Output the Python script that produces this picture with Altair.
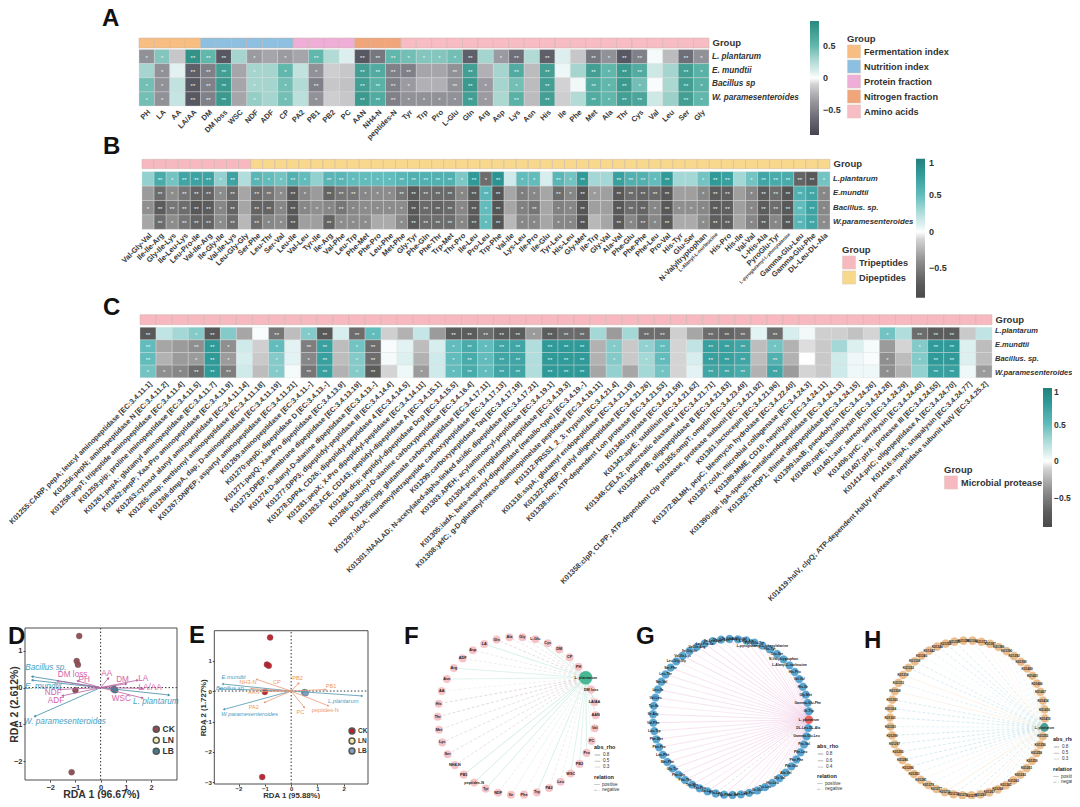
import math
import numpy as np
import pandas as pd
import altair as alt

W, H = 1064, 791
FONT = "Liberation Sans"
px = lambda v: v - 8

# ---------- Panel A ----------
A_cols = ["PH","LA","AA","LA/AA","DM","DM loss","WSC","NDF","ADF","CP","PA2","PB1","PB2","PC","AAN","NH4-N","peptides-N",
          "Tyr","Trp","Pro","L-Glu","Gln","Arg","Asp","Lys","Asn","His","Ile","Phe","Met","Ala","Thr","Cys","Val","Leu","Ser","Gly"]
A_group_names = ["Fermentation index","Nutrition index","Protein fraction","Nitrogen fraction","Amino acids"]
A_group_sizes = [4,6,4,3,20]
A_group_colors = ["#f8bd80","#8dbfe0","#eeaed8","#f0a57a","#f8bcc4"]
A_rows = {
 "L. plantarum": "-.4* .4* -.15 .8** .5** -.75** .3 -.35* -.3 -.35* -.3 .5** .25 .1 -.75** -.55** .5** .45* .4* .4* .45* -.7** .3 -.35* -.6** .25 -.7** .1 -.15 -.55** -.4* -.75** -.5** .03 -.2 -.6** -.4*",
 "E. mundtii": ".3 -.4* .08 -.7** -.5** .7** -.3 .3* .3 .5* .2 -.4* -.12 -.15 .7** .6** -.5** -.5** -.3 -.3 -.4** .7** -.25 .3 .6** -.2 .7** .05 .3 .7** .5* .75** .6** .15 .3 .7** .55*",
 "Bacillus sp": ".45* -.4* .2 -.75** -.5** .75** -.3 .3* .3 .45* .25 -.5** -.15 -.17 .7** .55** -.5** -.35* -.25 -.25 -.4** .75** -.35* .3 .45* -.2 .7** -.1 .04 .6** .5* .75** .45* .02 .28 .7** .55*",
 "W. paramesenteroides": ".45* -.4* .18 -.75** -.5** .75** -.3 .35* .3 .45* .22 -.4* -.12 -.15 .75** .6** -.5** -.4* -.4* -.4* -.4* .7** -.35* .28 .55** -.2 .7** -.12 .25 .6** .5* .7** .65** .15 .33 .7** .5*",
}
A_color_domain = [-.88,-.6,-.35,-.1,0,.1,.3,.5,.88]
A_color_range = ["#45454f","#6e6e78","#9a9aa0","#d2d2d4","#ffffff","#dceeee","#a5d5ce","#62b7ac","#27897f"]

# ---------- Panel B ----------
B_cols = ["Val-Gly-Val","Ile-Ile-Arg","Gly-Ile-Lys","Ile-Leu-Lys","Leu-Pro-Ile","Val-Ile-Arg","Ile-Gly-Ile","Val-Ile-Lys","Leu-Gly-Gly",
          "Ser-Phe","Leu-Thr","Ser-Val","Leu-Ile","Val-Leu","Tyr-Ile","Ile-Arg","Val-Phe","Leu-Trp","Phe-Met","Phe-Pro","Leu-Phe","Met-Phe",
          "Gly-Tyr","Phe-Gln","Phe-Thr","Trp-Met","Thr-Pro","Ile-Leu","Pro-Leu","Trp-Phe","Val-Ile","Lys-Leu","Ile-Pro","Ile-Glu","Tyr-Leu",
          "His-Leu","Gly-Met","Ile-Trp","Gly-Val","Ala-Val","Phe-Glu","Phe-Phe","Phe-Leu","Pro-Val","His-Tyr","Glu-Ser","N-Valyltryptophan",
          "L-Alanyl-L-norleucine","His-Pro","His-Ile","Val-Val","L-His-Ala","PyroGlu-Tyr","L-pyroglutamyl-L-phenylalanine","Gamma-Glu-Leu",
          "Gamma-Glu-Phe","DL-Leu-DL-Ala"]
B_group_names = ["Tripeptides","Dipeptides"]
B_group_sizes = [9,48]
B_group_colors = ["#f8b8c0","#f8d88c"]
B_rows = {
 "L.plantarum": ".35 .65** .45* .7** .72** .72** .35* .72** .25 .55** .5* .45* .6** .5* .35 .55** .55** .5* .5* .5* .5* .55** .6** .6** .6** .6** .42* .8** -.6* .85** .15 .5* .5* .12 .55** .45* .8** .3 .3 .75** .6** .6** .5* .8** .3 .3 .45* .8** .75** .3 .45* .7** .65** .65** -.65** -.75** .45*",
 "E.mundtii": "-.35 -.6** -.42* -.55** -.65** -.65** -.42* -.62** -.3 -.6** -.55** -.42* -.72** -.45* -.35 -.65** -.55** -.55** -.45* -.42* -.42* -.55** -.72** -.6** -.62** -.62** -.45* -.72** .55** -.78** -.3 -.5* -.45* -.3 -.6** -.45* -.78** -.35* -.33 -.75** -.6** -.65** -.62** -.75** -.33 -.33 -.45* -.7** -.68** -.33 -.45* -.7** -.6** -.78** .6** .7** -.45*",
 "Bacillus. sp.": "-.4* -.7** -.55** -.6** -.75** -.7** -.45* -.65** -.3 -.65** -.65** -.45* -.75** -.45* -.4* -.45* -.55** -.45* -.42* -.42* -.42* -.42* -.75** -.62** -.65** -.62** -.45* -.72** .5* -.78** -.3 -.48* -.55** -.3 -.48* -.45* -.78** -.33 -.33 -.75** -.6** -.65** -.45* -.75** -.4* -.4* -.45* -.7** -.68** -.33 -.45* -.7** -.6** -.75** .5** .72** -.45*",
 "W.paramesenteroides": "-.3 -.6** -.42* -.55** -.65** -.65** -.42* -.6** -.22 -.6** -.45* -.42* -.72** -.33 -.33 -.65** -.42* -.42* -.42* -.28 -.28 -.42* -.72** -.6** -.6** -.6** -.45* -.72** .5* -.78** -.22 -.45* -.45* -.3 -.45* -.45* -.78** -.22 -.3 -.72** -.45* -.62** -.45* -.72** -.28 -.28 -.42* -.68** -.68** -.3 -.45* -.68** -.45* -.75** .55** .7** -.42*",
}
BC_color_domain = [-.9,-.7,-.4,-.1,0,.1,.3,.5,.8,1]
BC_color_range = ["#4a4a4a","#5c5c5c","#8f8f8f","#d4d4d4","#ffffff","#dcf0f0","#a3d8d6","#63bcbc","#2f9a98","#247f7b"]

# ---------- Panel C ----------
C_cols = [
 "K01255:CARP, pepA; leucyl aminopeptidase [EC:3.4.11.1]","K01256:pepN; aminopeptidase N [EC:3.4.11.2]",
 "K01258:pepT; tripeptide aminopeptidase [EC:3.4.11.4]","K01259:pip; proline iminopeptidase [EC:3.4.11.5]",
 "K01261:pepA; glutamyl aminopeptidase [EC:3.4.11.7]","K01262:pepP; Xaa-Pro aminopeptidase [EC:3.4.11.9]",
 "K01263:cytosol alanyl aminopeptidase [EC:3.4.11.14]","K01265:map; methionyl aminopeptidase [EC:3.4.11.18]",
 "K01266:dmpA, dap; D-aminopeptidase [EC:3.4.11.19]","K01267:DNPEP; aspartyl aminopeptidase [EC:3.4.11.21]",
 "K01269:aminopeptidase [EC:3.4.11.-]","K01270:pepD; dipeptidase D [EC:3.4.13.-]",
 "K01271:pepQ; Xaa-Pro dipeptidase [EC:3.4.13.9]","K01273:DPEP; membrane dipeptidase [EC:3.4.13.19]",
 "K01274:D-alanyl-D-alanine dipeptidase [EC:3.4.13.-]","K01277:DPP3; dipeptidyl-peptidase III [EC:3.4.14.4]",
 "K01278:DPP4, CD26; dipeptidyl-peptidase 4 [EC:3.4.14.5]","K01281:pepX; X-Pro dipeptidyl-peptidase [EC:3.4.14.11]",
 "K01283:ACE, CD143; peptidyl-dipeptidase A [EC:3.4.15.1]","K01284:dcp; peptidyl-dipeptidase Dcp [EC:3.4.15.5]",
 "K01286:D-alanyl-D-alanine carboxypeptidase [EC:3.4.16.4]","K01295:cpg; glutamate carboxypeptidase [EC:3.4.17.11]",
 "K01297:ldcA; muramoyltetrapeptide carboxypeptidase [EC:3.4.17.13]","K01299:carboxypeptidase Taq [EC:3.4.17.19]",
 "K01301:NAALAD; N-acetylated-alpha-linked acidic dipeptidase [EC:3.4.17.21]","K01303:APEH; acylaminoacyl-peptidase [EC:3.4.19.1]",
 "K01304:pcp; pyroglutamyl-peptidase [EC:3.4.19.3]","K01305:iadA; beta-aspartyl-dipeptidase (metallo-type) [EC:3.4.19.-]",
 "K01308:ykfC; g-D-glutamyl-meso-diaminopimelate peptidase [EC:3.4.19.11]","K01312:PRSS1_2_3; trypsin [EC:3.4.21.4]",
 "K01318:sspA; glutamyl endopeptidase [EC:3.4.21.19]","K01322:PREP; prolyl oligopeptidase [EC:3.4.21.26]",
 "K01338:lon; ATP-dependent Lon protease [EC:3.4.21.53]","K01340:tryptase [EC:3.4.21.59]",
 "K01342:aprE; subtilisin [EC:3.4.21.62]","K01346:CELA2; pancreatic elastase II [EC:3.4.21.71]",
 "K01354:ptrB; oligopeptidase B [EC:3.4.21.83]","K01355:ompT; omptin [EC:3.4.23.49]",
 "K01358:clpP, CLPP; ATP-dependent Clp protease, protease subunit [EC:3.4.21.92]","K01361:lactocepin [EC:3.4.21.96]",
 "K01372:BLMH, pepC; bleomycin hydrolase [EC:3.4.22.40]","K01387:colA; microbial collagenase [EC:3.4.24.3]",
 "K01389:MME, CD10; neprilysin [EC:3.4.24.11]","K01390:iga; IgA-specific metalloendopeptidase [EC:3.4.24.13]",
 "K01392:THOP1; thimet oligopeptidase [EC:3.4.24.15]","K01399:lasB; pseudolysin [EC:3.4.24.26]",
 "K01400:nprE; bacillolysin [EC:3.4.24.28]","K01401:aur; aureolysin [EC:3.4.24.29]",
 "K01406:prtC; serralysin [EC:3.4.24.40]","K01407:ptrA; protease III [EC:3.4.24.55]",
 "K01414:prlC; oligopeptidase A [EC:3.4.24.70]","K01416:snpA; snapalysin [EC:3.4.24.77]",
 "K01419:hslV, clpQ; ATP-dependent HslUV protease, peptidase subunit HslV [EC:3.4.25.2]"]
C_group_names = ["Microbial protease"]
C_group_sizes = [53]
C_group_colors = ["#f8b8c0"]
C_rows = {
 "L.plantarum": "-.75** .2 .3 .4* -.75** .4 -.3 .02 -.55** -.2 .4* -.75** .12 -.6** .5* -.12 -.25 .18 -.35 -.7** -.7** -.6** -.7** -.7** -.35* -.7** -.62** -.62** .3 -.35 .3 -.6** -.6** -.12 -.3 -.6** -.65** -.6** .08 -.6** .12 .04 -.12 -.12 -.18 -.1 .45* .25 -.6** -.7** -.7** -.15 .2",
 "E.mundtii": ".5** -.3 -.35 -.4** .8** -.4* .15 -.12 .5* .08 -.5** .75** -.2 .45* -.6** .02 .08 -.2 .12 .5* .65** .5* .7** .7** .25 .8** .8** .8** -.25 .4* -.15 .35* .5** -.1 .2 .75** .75** .7** -.2 .45* -.25 -.08 -.15 .3 .1 .03 -.35 -.1 .4* .8** .8** .1 -.2",
 "Bacillus. sp.": ".5** -.25 -.35 -.35* .8** -.35* .12 -.15 .4* .08 -.45* .75** -.2 .4* -.6** .03 .1 -.25 .15 .5* .65** .5* .7** .7** .25 .8** .8** .8** -.25 .4* -.15 .3* .5** -.1 .12 .75** .75** .7** -.2 .6** -.25 0 -.15 .15 .05 .02 -.4* -.2 .4* .8** .8** .1 -.2",
 "W.paramesenteroides": ".45* -.4* -.45* -.6** .8** -.5** .15 -.2 .4* .03 -.55** .75** -.25 .4* -.7** -.1 .05 -.35* .15 .5* .65** .5* .7** .7** .25 .8** .8** .8** -.3 .35 -.3 .3 .45* -.1 .08 .7** .7** .65** -.25 .7** -.35 -.1 -.15 .15 .05 .05 -.4* -.25 .35 .75** .75** .05 -.35*",
}

# ---------- Panels D, E ----------
D_xlim, D_ylim = [-3.0, 3.03], [-2.51, 1.62]
D_points = {"g": ["CK"]*5+["LN"]*3+["LB"]*3,
            "x": [-.85,-.95,-.9,-1.0,-1.15,.5,.52,.55,.55,.52,.58],
            "y": [1.4,.72,.62,-.07,-2.3,-.03,-.06,-.05,-.05,-.04,-.07]}
D_arrow_names = ["Bacillus sp.","E. mundtii","W. paramesenteroides","L. plantarum","DM loss","PH","AA","DM","LA","LA/AA","WSC","NDF","ADF"]
D_arrow_kind = ["s"]*4+["e"]*9
D_arrow_x = [-2.7,-2.7,-2.6,2.7,-1.7,-.9,.3,1.0,1.45,1.65,1.65,-1.6,-1.5]
D_arrow_y = [.3,.2,-.78,-.2,.18,.18,.25,.1,.2,-.02,-.28,-.05,-.22]
D_label_x = [-2.17,-2.28,-1.42,2.19,-1.11,-.65,.24,.87,1.69,1.96,.82,-1.88,-1.77]
D_label_y = [.53,.03,-.94,-.38,.33,.2,.36,.2,.245,-.02,-.32,-.14,-.35]

E_xlim, E_ylim = [-2.92, 2.92], [-3.05, 1.98]
E_points = {"g": ["CK"]*5+["LN"]*3+["LB"]*3,
            "x": [-.8,-.92,-.85,-1.0,-1.1,.5,.52,.53,.53,.5,.55],
            "y": [1.76,.87,.83,-.03,-2.82,-.04,-.05,-.05,-.05,-.04,-.07]}
E_arrow_names = ["E.mundtii","Bacillus sp.","W.paramesenteroides","L.plantarum","NH3-N","CP","PB2","PB1","AAN","PA2","PC","peptides-N"]
E_arrow_kind = ["s"]*4+["e"]*8
E_arrow_x = [-2.59,-2.7,-2.54,2.68,-1.5,-1.3,.28,1.3,-1.1,-1.0,.49,1.4]
E_arrow_y = [.23,.07,-.6,-.16,.08,.38,.25,.05,-.02,-.37,-.53,-.48]
E_label_x = [-2.19,-2.3,-1.58,1.98,-1.64,-.54,.24,1.52,-1.42,-1.42,.35,1.3]
E_label_y = [.47,.09,-.74,-.33,.3,.3,.44,.17,-.03,-.51,-.68,-.63]

# ---------- Panels F, G, H ----------
F_order = ["DM loss","LA/AA","AAN","Val","PC","Pro","PB2","WSC","Leu","PA2","Trp","Phe","Ile","NDF","Tyr","peptides-N","PB1","NH4-N","Ser","Lys",
           "Met","Thr","His","AA","Asn","Arg","ADF","Asp","LA","Gln","Ala","Gly","L-Glu","Cys","DM","CP","PH"]
G_head = ["Ile-Trp","Gamma-Glu-Phe","Gly-Met","His-Ile","Val-Val","His-Pro","L-Alanyl-L-norleucine","N-Valyltryptophan","Glu-Ser","His-Tyr",
          "L-pyroglutamyl-L-phenylalanine","PyroGlu-Tyr","L-His-Ala"]


def parse_rows(rows, cols):
    recs = []
    for r, s in rows.items():
        toks = s.split()
        assert len(toks) == len(cols), (r, len(toks), len(cols))
        for c, t in zip(cols, toks):
            recs.append({"col": c, "row": r, "v": float(t.rstrip("*")), "sig": "*" * t.count("*")})
    return pd.DataFrame(recs)


def heat(cols, rows, names, sizes, colors, x0, x1, st, sb, ht, hb, lab_top, lab_bot, lab_x, axis_size, lab_size, row_size,
         cdom, crange, cleg, gleg):
    df = parse_rows(rows, cols)
    rn = list(rows)
    xs = alt.Scale(domain=cols, range=[px(x0), px(x1)])
    ys = alt.Scale(domain=rn, range=[px(ht), px(hb)])
    strip = pd.DataFrame({"col": cols, "grp": sum([[n]*k for n, k in zip(names, sizes)], []), "lab": "Group"})
    out = []
    out.append(alt.Chart(strip).mark_rect(stroke="#c9b4a8", strokeWidth=.5).encode(
        x=alt.X("col:N", sort=None, scale=xs, axis=None),
        y=alt.Y("lab:N", scale=alt.Scale(domain=["Group"], range=[px(st), px(sb)]),
                axis=alt.Axis(orient="right", offset=px(x1)-W, title=None, domain=False, ticks=False, grid=False, labelPadding=3,
                              labelFont=FONT, labelFontSize=9.5, labelFontWeight="bold", labelColor="#333")),
        color=alt.Color("grp:N", scale=alt.Scale(domain=names, range=colors),
                        legend=alt.Legend(orient="none", legendX=px(gleg[0]), legendY=px(gleg[1]), title="Group", symbolType="square",
                                          symbolSize=172, symbolStrokeColor="#d8c8b8", symbolStrokeWidth=.5, rowPadding=-3.1,
                                          titleFont=FONT, titleFontSize=9.5, titleFontWeight="bold", titleColor="#333", titlePadding=1,
                                          labelFont=FONT, labelFontSize=9.2, labelFontWeight="bold", labelColor="#333", labelOffset=3,
                                          labelLimit=200, symbolOpacity=1)),
    ))
    size_expr = "indexof(datum.label,'L-pyroglutamyl')==0?4.6:(indexof(datum.label,'L-Alanyl')==0?5.2:%g)" % axis_size
    out.append(alt.Chart(df).mark_rect(stroke="#dcdcdc", strokeWidth=.35).encode(
        x=alt.X("col:N", sort=None, scale=xs,
                axis=alt.Axis(orient="bottom", offset=px(hb)-H, title=None, domain=False, ticks=False, grid=False,
                              labelAngle=-45, labelAlign="right", labelBaseline="top", labelLimit=500, labelPadding=2, labelOverlap=False,
                              labelFont=FONT, labelFontSize=alt.expr(size_expr), labelFontWeight="bold", labelColor="#3a3a3a")),
        y=alt.Y("row:N", sort=None, scale=ys, axis=None),
        color=alt.Color("v:Q", scale=alt.Scale(domain=cdom, range=crange, interpolate="rgb", clamp=True),
                        legend=alt.Legend(orient="none", legendX=px(cleg[0]), legendY=px(cleg[1]), title=None, direction="vertical",
                                          gradientLength=cleg[2], gradientThickness=9, gradientStrokeWidth=0, values=cleg[3], format=".1~f",
                                          labelFont=FONT, labelFontSize=cleg[4], labelFontWeight="bold", labelColor="#333", labelOffset=cleg[5])),
    ))
    out.append(alt.Chart(df[df.sig != ""]).mark_text(color="#eaf4f2", font=FONT, fontSize=lab_size, dy=1).encode(
        x=alt.X("col:N", sort=None, scale=xs, axis=None),
        y=alt.Y("row:N", sort=None, scale=ys, axis=None),
        text="sig:N"))
    out.append(alt.Chart(pd.DataFrame({"row": rn})).mark_text(align="left", font=FONT, fontStyle="italic", fontWeight="bold",
                                                              fontSize=row_size, color="#333").encode(
        x=alt.value(px(lab_x)),
        y=alt.Y("row:N", sort=None, scale=alt.Scale(domain=rn, range=[px(lab_top), px(lab_bot)]), axis=None),
        text="row:N"))
    return out


def rda(points, names, kinds, ax, ay, lx, ly, xlim, ylim, frame, ticksx, ticksy, xtitle, ytitle, pcolors, blue, other, arrow_col,
        fs_s, fs_e, tick_fs, title_fs, psize, leg, head, ytitle_pad, xtitle_pad, xlabel_pad):
    l, r, t, b = frame
    xs = alt.Scale(domain=xlim, range=[px(l), px(r)], nice=False, zero=False)
    ys = alt.Scale(domain=ylim, range=[px(b), px(t)], nice=False, zero=False)
    kx = (r-l)/(xlim[1]-xlim[0]); ky = (b-t)/(ylim[1]-ylim[0])
    df = pd.DataFrame({"name": names, "kind": kinds, "x": ax, "y": ay, "lx": lx, "ly": ly})
    df["x0"] = 0.0; df["y0"] = 0.0
    df["ang"] = [math.degrees(math.atan2(a*kx, c*ky)) % 360 for a, c in zip(ax, ay)]
    kscale = alt.Scale(domain=["s", "e"], range=arrow_col)
    frame_df = pd.DataFrame({"x": [xlim[0]], "x2": [xlim[1]], "y": [ylim[0]], "y2": [ylim[1]]})
    zero_df = pd.DataFrame({"x": [xlim[0], 0], "x2": [xlim[1], 0], "y": [0, ylim[0]], "y2": [0, ylim[1]]})
    out = []
    out.append(alt.Chart(zero_df).mark_rule(color="#333", strokeWidth=1, strokeDash=[1.5, 2]).encode(
        x=alt.X("x:Q", scale=xs, axis=None), x2="x2:Q", y=alt.Y("y:Q", scale=ys, axis=None), y2="y2:Q"))
    out.append(alt.Chart(pd.DataFrame(points)).mark_circle(size=psize, opacity=.95, stroke="#555", strokeWidth=.3).encode(
        x=alt.X("x:Q", scale=xs, axis=None), y=alt.Y("y:Q", scale=ys, axis=None),
        color=alt.Color("g:N", scale=alt.Scale(domain=["CK", "LN", "LB"], range=pcolors),
                        legend=alt.Legend(orient="none", legendX=px(leg[0]), legendY=px(leg[1]), title=None, symbolSize=leg[2], rowPadding=leg[3],
                                          symbolOpacity=1, labelFont=FONT, labelFontSize=leg[4], labelFontWeight="bold", labelColor="#333", labelOffset=2))))
    out.append(alt.Chart(df).mark_rule(strokeWidth=.8).encode(
        x=alt.X("x0:Q", scale=xs, axis=None), x2="x:Q", y=alt.Y("y0:Q", scale=ys, axis=None), y2="y:Q",
        color=alt.Color("kind:N", scale=kscale, legend=None)))
    out.append(alt.Chart(df).mark_point(shape="triangle", filled=True, opacity=1, size=head).encode(
        x=alt.X("x:Q", scale=xs, axis=None), y=alt.Y("y:Q", scale=ys, axis=None),
        angle=alt.Angle("ang:Q", scale=None),
        color=alt.Color("kind:N", scale=kscale, legend=None)))
    sdf, edf = df[df.kind == "s"], df[df.kind == "e"]
    out.append(alt.Chart(sdf).mark_text(font=FONT, fontStyle="italic", fontSize=fs_s, color=blue).encode(
        x=alt.X("lx:Q", scale=xs, axis=None), y=alt.Y("ly:Q", scale=ys, axis=None), text="name:N"))
    out.append(alt.Chart(edf).mark_text(font=FONT, fontSize=fs_e, color=other).encode(
        x=alt.X("lx:Q", scale=xs, axis=None), y=alt.Y("ly:Q", scale=ys, axis=None), text="name:N"))
    out.append(alt.Chart(frame_df).mark_rect(fillOpacity=0, stroke="#4d4d4d", strokeWidth=1).encode(
        x=alt.X("x:Q", scale=xs, axis=alt.Axis(orient="bottom", offset=px(b)-H, values=ticksx, title=xtitle, grid=False, domain=False, tickSize=2,
                                               tickColor="#444", titleFont=FONT, titleFontSize=title_fs, titleFontWeight="bold", titleColor="#333",
                                               titlePadding=xtitle_pad, labelFont=FONT, labelFontSize=tick_fs, labelFontWeight="bold", labelColor="#333", labelPadding=xlabel_pad)),
        x2="x2:Q",
        y=alt.Y("y:Q", scale=ys, axis=alt.Axis(orient="left", offset=-px(l), values=ticksy, title=ytitle, grid=False, domain=False, tickSize=2,
                                               tickColor="#444", titleFont=FONT, titleFontSize=title_fs, titleFontWeight="bold", titleColor="#333",
                                               titlePadding=ytitle_pad, labelFont=FONT, labelFontSize=tick_fs, labelFontWeight="bold", labelColor="#333", labelPadding=1)),
        y2="y2:Q"))
    return out


def network(hub, hub_angle, names, values, direction, cx, cy, r, node_col, hub_col, hub_size, node_size, pos_col, neg_col, label_fs, rho_vals, rho_dom, lx, ly):
    n = len(names) + 1
    ang = np.radians(hub_angle + direction*np.arange(n)*360.0/n)
    all_names = [hub] + list(names)
    nodes = pd.DataFrame({"name": all_names, "x": np.cos(ang), "y": np.sin(ang)})
    rel = ["positive" if v > 0 else "negative" for v in values]
    edges = pd.DataFrame({"x": [nodes.x[0]]*(n-1), "y": [nodes.y[0]]*(n-1), "x2": nodes.x[1:].values, "y2": nodes.y[1:].values,
                          "rho": np.abs(values), "relation": rel, "tone": rel})
    xs = alt.Scale(domain=[-1, 1], range=[px(cx-r), px(cx+r)], nice=False, zero=False)
    ys = alt.Scale(domain=[-1, 1], range=[px(cy+r), px(cy-r)], nice=False, zero=False)
    leg_font = dict(labelFont=FONT, labelFontSize=4.6, labelColor="#333", titleFont=FONT, titleFontSize=5.5, titleColor="#222", titlePadding=1,
                    symbolStrokeColor="#888", rowPadding=0.8, labelOffset=2)
    out = []
    out.append(alt.Chart(edges).mark_rule().encode(
        x=alt.X("x:Q", scale=xs, axis=None), x2="x2:Q", y=alt.Y("y:Q", scale=ys, axis=None), y2="y2:Q",
        color=alt.Color("tone:N", scale=alt.Scale(domain=["negative", "positive"], range=[neg_col, pos_col]), legend=None),
        strokeDash=alt.StrokeDash("relation:N", scale=alt.Scale(domain=["positive", "negative"], range=[[1, 0], [3, 2]]),
                                  legend=alt.Legend(orient="none", legendX=px(lx), legendY=px(ly+30), title="relation", symbolSize=30, symbolStrokeWidth=.5,
                                                    values=["positive", "negative"], **leg_font)),
        strokeWidth=alt.StrokeWidth("rho:Q", scale=alt.Scale(domain=rho_dom, range=[.15, .8]),
                                    legend=alt.Legend(orient="none", legendX=px(lx), legendY=px(ly), title="abs_rho", symbolSize=30,
                                                      values=rho_vals, **leg_font)),
    ))
    nd = nodes.iloc[1:]
    out.append(alt.Chart(nd).mark_circle(size=node_size, opacity=1, color=node_col, stroke="#ffffff", strokeWidth=.2).encode(
        x=alt.X("x:Q", scale=xs, axis=None), y=alt.Y("y:Q", scale=ys, axis=None)))
    out.append(alt.Chart(nodes.iloc[:1]).mark_circle(size=hub_size, opacity=.95, color=hub_col).encode(
        x=alt.X("x:Q", scale=xs, axis=None), y=alt.Y("y:Q", scale=ys, axis=None)))
    out.append(alt.Chart(nodes).mark_text(font=FONT, fontSize=label_fs, fontWeight="bold", color="#222").encode(
        x=alt.X("x:Q", scale=xs, axis=None), y=alt.Y("y:Q", scale=ys, axis=None), text="name:N"))
    return out


layers = []
layers += heat(A_cols, A_rows, A_group_names, A_group_sizes, A_group_colors, 139, 709, 38, 48, 49.5, 106, 50, 105, 712, 7.5, 6, 8.2,
               A_color_domain, A_color_range, (810, 21, 114, [0.5, 0, -0.5], 9, 4), (847, 34))
layers += heat(B_cols, B_rows, B_group_names, B_group_sizes, B_group_colors, 142, 830, 159.3, 168.7, 171.7, 229.3, 171.7, 229.3, 833, 7.5, 6, 7.8,
               BC_color_domain, BC_color_range, (916, 158.7, 139, [1, 0.5, 0, -0.5], 9, 4), (842, 245))
layers += heat(C_cols, C_rows, C_group_names, C_group_sizes, C_group_colors, 140, 992, 314.7, 324.7, 327.3, 377.7, 324, 380, 995, 7.3, 6, 7.5,
               BC_color_domain, BC_color_range, (1043, 388, 139, [1, 0.5, 0, -0.5], 8.5, 2), (944, 465))

D_pc = ["#8f4a52", "#f4eeb0", "#3d7f8f"]
layers += rda(D_points, D_arrow_names, D_arrow_kind, D_arrow_x, D_arrow_y, D_label_x, D_label_y, D_xlim, D_ylim, (25, 177, 628, 780),
              [-2, -1, 0, 1, 2], [-2, -1, 0, 1], "RDA 1 (96.67%)", "RDA 2 (2.612%)", D_pc, "#4aa0c4", "#d862a8", ["#3f8ba5", "#b85fa0"],
              8.2, 8.2, 7.5, 10.5, 36, (152, 725, 36, -4, 8.5), 9, -6, -1.5, 1)
E_pc = ["#b8202c", "#f1e8a0", "#7f9fc4"]
layers += rda(E_points, E_arrow_names, E_arrow_kind, E_arrow_x, E_arrow_y, E_label_x, E_label_y, E_xlim, E_ylim, (214.3, 368, 630.7, 784),
              [-2, -1, 0, 1, 2], [-3, -2, -1, 0, 1], "RDA 1 (95.88%)", "RDA 2 (1.727%)", E_pc, "#4aa0c4", "#ec9a62", ["#4f94b0", "#e89a78"],
              5.8, 5.6, 6, 7.8, 36, (348, 727, 34, -5.4, 6.5), 7, -3, 0.6, -1)

layers += network("L. plantarum", 29, F_order, [float(t.rstrip("*")) for t in
                  [dict(zip(A_cols, A_rows["L. plantarum"].split()))[n] for n in F_order]], -1,
                  516.7, 716, 79, "#f6c2c6", "#3fb58f", 180, 66, "#a0dac8", "#d6cacb", 3.8, [.75, .5, .25], [0, .9], 594, 745)
G_rest = [b for b in B_cols if b not in G_head]
G_names = G_head + G_rest
layers += network("L. plantarum", -2, G_names, [float(t.rstrip("*")) for t in
                  [dict(zip(B_cols, B_rows["L.plantarum"].split()))[n] for n in G_names]], 1,
                  731, 717, 78, "#5aa5d0", "#e8605a", 70, 70, "#f0c8e4", "#d0d0d0", 3.4, [.8, .6, .4], [0, .9], 817, 744)
H_names = [c.split(":")[0] for c in C_cols]
layers += network("L. plantarum", -7, H_names, [float(t.rstrip("*")) for t in C_rows["L.plantarum"].split()], -1,
                  967.5, 718, 77.5, "#eabc8c", "#3f9a8c", 75, 75, "#f7dcbc", "#bfe0e6", 3.2, [.75, .5, .25], [0, .9], 1053, 737)

# Panel letters
letters = {"A": (102, 26), "B": (103, 154), "C": (103, 315), "D": (8, 644), "E": (189, 643), "F": (404, 644), "G": (636, 644), "H": (864, 648)}
for ch, (lx_, ly_) in letters.items():
    layers.append(alt.Chart(pd.DataFrame({"t": [ch]})).mark_text(font=FONT, fontSize=24, fontWeight="bold", color="#111", align="left", baseline="alphabetic").encode(
        x=alt.value(px(lx_)), y=alt.value(px(ly_)), text="t:N"))

chart = alt.layer(*layers).resolve_scale(x="independent", y="independent", color="independent",
                                         strokeDash="independent", strokeWidth="independent").properties(
    width=W, height=H, padding=0, autosize=alt.AutoSizeParams(type="none"), background="#ffffff"
).configure_view(strokeWidth=0)

chart.save("out.html", embed_options={"renderer": "svg", "actions": False})
